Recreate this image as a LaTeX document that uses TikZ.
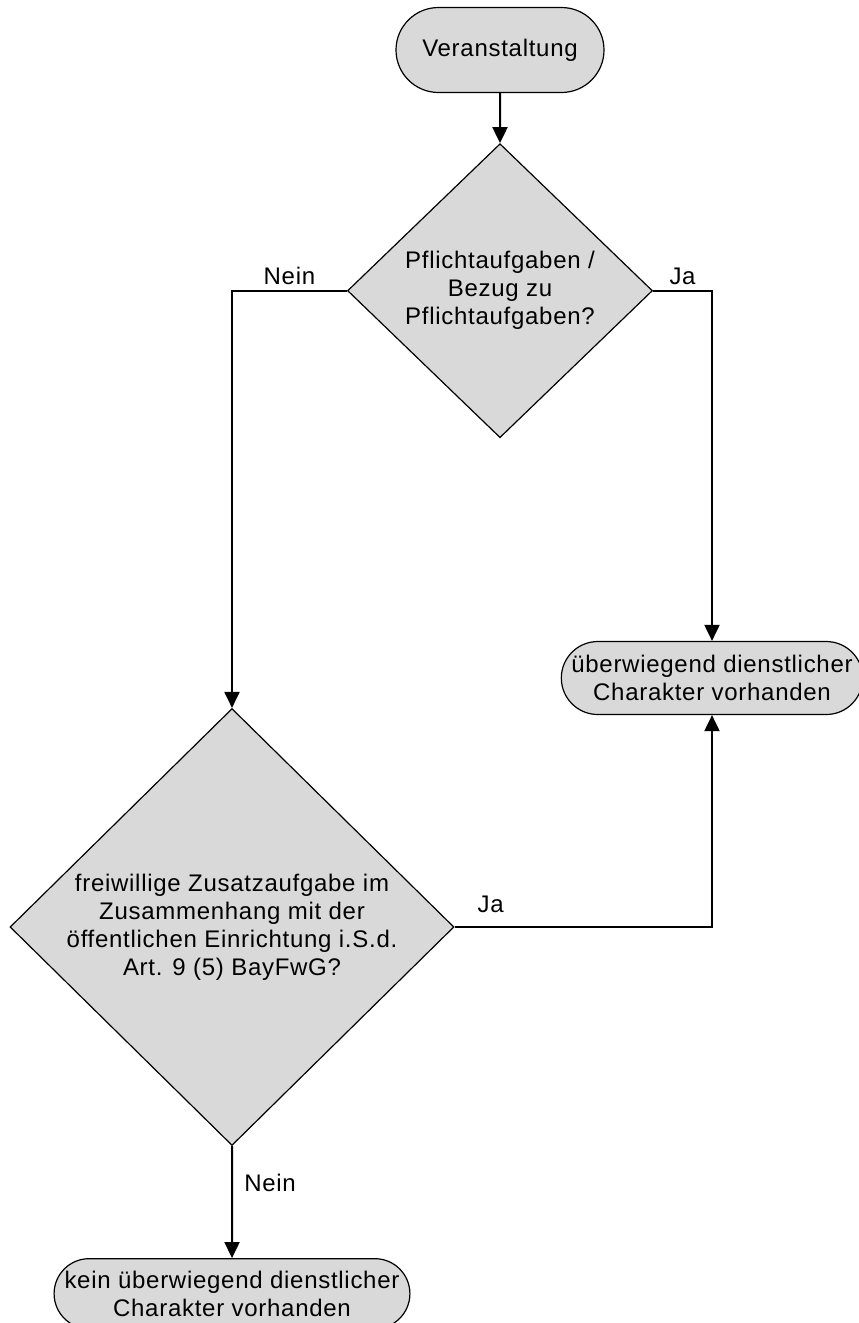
\documentclass[tikz,border=0pt]{standalone}
\usepackage{fontspec}
\setmainfont{Liberation Sans}[LetterSpace=3]
\usepackage{tikz}
\usetikzlibrary{shapes.geometric, shapes.misc, arrows.meta, positioning}
\tikzset{
  terminal/.style={rounded rectangle, draw, line width=1.2pt, fill=black!15, text centered, align=center, inner sep=2pt},
  decision/.style={diamond, draw, line width=1.2pt, fill=black!15, text centered, align=center, inner sep=0pt, aspect=1},
  arrow/.style={-{Triangle[length=16pt, width=15pt]}, line width=2pt}
}

\begin{document}
\begin{tikzpicture}[x=1pt, y=1pt, every node/.style={font=\fontsize{24}{28}\selectfont}]
  \useasboundingbox (0,0) rectangle (859,-1323);
  % Nodes
  \node[terminal, minimum width=212pt, minimum height=85pt] (start) at (500,-50) {Veranstaltung};
  \node[decision, minimum width=305pt, minimum height=294pt, below=50pt of start] (pflicht) {Pflichtaufgaben /\\Bezug zu\\Pflichtaufgaben?};
  \node[terminal, minimum width=296pt, minimum height=73pt] (dienstlich) at (712,-678) {überwiegend dienstlicher\\Charakter vorhanden};
  \node[decision, minimum width=444pt, minimum height=428pt] (freiwillig) at (232,-927) {freiwillige Zusatzaufgabe im\\Zusammenhang mit der\\öffentlichen Einrichtung i.S.d.\\Art. 9 (5) BayFwG?};
  \node[terminal, minimum width=355pt, minimum height=70pt, below=112pt of freiwillig] (keindienst) {kein überwiegend dienstlicher\\Charakter vorhanden};

  % Connections
  \draw[arrow] (start) -- (pflicht);
  \draw[arrow] (pflicht.west) -| (freiwillig.north) node[pos=0.25, above=2pt] {Nein};
  \draw[arrow] (pflicht.east) -| (dienstlich.north) node[pos=0.25, above=2pt] {Ja};
  \draw[arrow] (freiwillig.east) -| (dienstlich.south) node[pos=0.07, above=10pt] {Ja};
  \draw[arrow] (freiwillig) -- (keindienst) node[pos=0.33, right=8pt] {Nein};
\end{tikzpicture}
\end{document}
